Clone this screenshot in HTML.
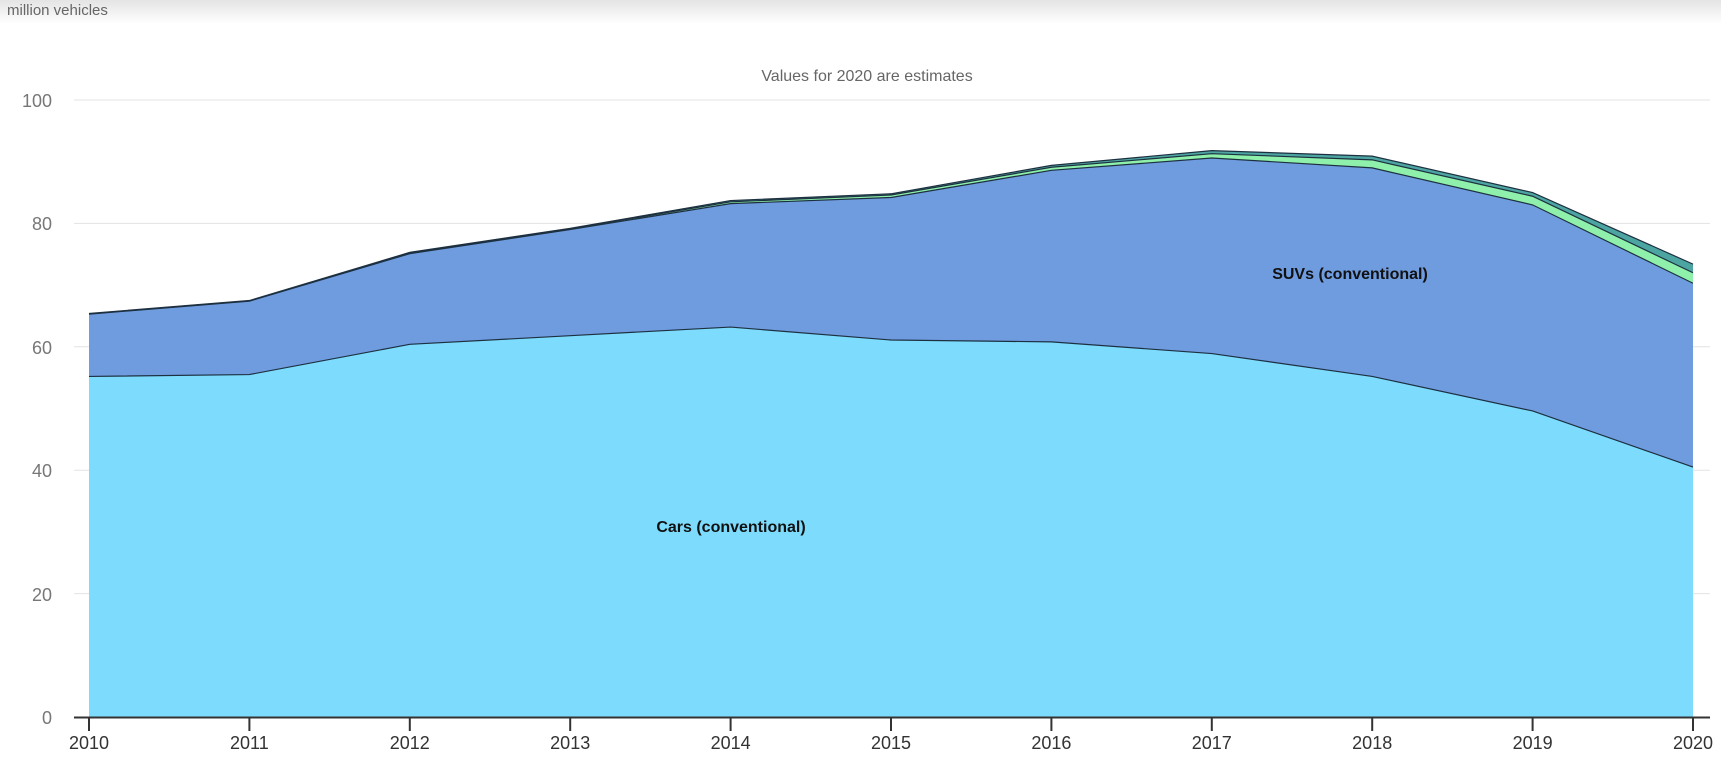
<!DOCTYPE html>
<html><head><meta charset="utf-8"><style>
body{margin:0;background:#fff;width:1721px;height:760px;overflow:hidden;font-family:"Liberation Sans",sans-serif}
</style></head><body>
<svg width="1721" height="760" viewBox="0 0 1721 760" xmlns="http://www.w3.org/2000/svg" font-family="Liberation Sans, sans-serif">
<defs><linearGradient id="hd" x1="0" y1="0" x2="0" y2="1"><stop offset="0" stop-color="#e4e4e4"/><stop offset="1" stop-color="#fff"/></linearGradient></defs>
<rect x="0" y="0" width="1721" height="24" fill="url(#hd)"/>
<text x="7" y="15" font-size="15" fill="#666">million vehicles</text>
<text x="867" y="81" font-size="16" fill="#666" text-anchor="middle">Values for 2020 are estimates</text>
<g stroke="#e3e3e3" stroke-width="1">
<line x1="74" x2="1710" y1="100" y2="100"/><line x1="74" x2="1710" y1="223.4" y2="223.4"/><line x1="74" x2="1710" y1="346.8" y2="346.8"/><line x1="74" x2="1710" y1="470.2" y2="470.2"/><line x1="74" x2="1710" y1="593.6" y2="593.6"/>
</g>
<g font-size="18" fill="#777" text-anchor="end">
<text x="52" y="107">100</text><text x="52" y="230">80</text><text x="52" y="354">60</text><text x="52" y="477">40</text><text x="52" y="601">20</text><text x="52" y="724">0</text>
</g>
<g id="areas"></g>
<text x="731" y="532" font-size="16" font-weight="bold" fill="#111" text-anchor="middle">Cars (conventional)</text>
<text x="1350" y="279" font-size="16" font-weight="bold" fill="#111" text-anchor="middle">SUVs (conventional)</text>
<line x1="74" x2="1710" y1="717.5" y2="717.5" stroke="#333" stroke-width="2"/>
<g id="ticks"></g>
</svg>
<script>
var X=function(i){return 89+i*160.4},Y=function(v){return 717-v*6.17};
var cars=[55.2,55.5,60.4,61.8,63.2,61.1,60.8,58.9,55.2,49.6,40.5];
var suv=[65.3,67.4,75.1,79,83.2,84.2,88.6,90.6,89,83,70.3];
var gr=[65.35,67.45,75.2,79.1,83.5,84.6,89.1,91.3,90.3,84.4,72.0];
var te=[65.4,67.5,75.3,79.2,83.7,84.8,89.4,91.8,90.9,85.0,73.4];
function area(top,bot,fill){var d="M";for(var i=0;i<11;i++)d+=X(i)+","+Y(top[i])+" L";for(var i=10;i>=0;i--)d+=X(i)+","+Y(bot[i])+(i?" L":" Z");return '<path d="'+d+'" fill="'+fill+'"/>';}
function line(a){var d="M";for(var i=0;i<11;i++)d+=X(i)+","+Y(a[i])+(i<10?" L":"");return '<path d="'+d+'" fill="none" stroke="#1d3040" stroke-width="1.2"/>';}
var z=[0,0,0,0,0,0,0,0,0,0,0],h="";
h+=area(te,gr,"#4da5a2")+area(gr,suv,"#8ef0aa")+area(suv,cars,"#6f9bdf")+area(cars,z,"#7ddcfd");
h+=line(cars)+line(suv)+line(gr)+line(te);
document.getElementById("areas").innerHTML=h;
var t="";for(var i=0;i<11;i++){t+='<line x1="'+X(i)+'" x2="'+X(i)+'" y1="717" y2="731" stroke="#333" stroke-width="2"/><text x="'+X(i)+'" y="749" font-size="18" fill="#333" text-anchor="middle">'+(2010+i)+'</text>';}
document.getElementById("ticks").innerHTML=t;
</script>
</body></html>
